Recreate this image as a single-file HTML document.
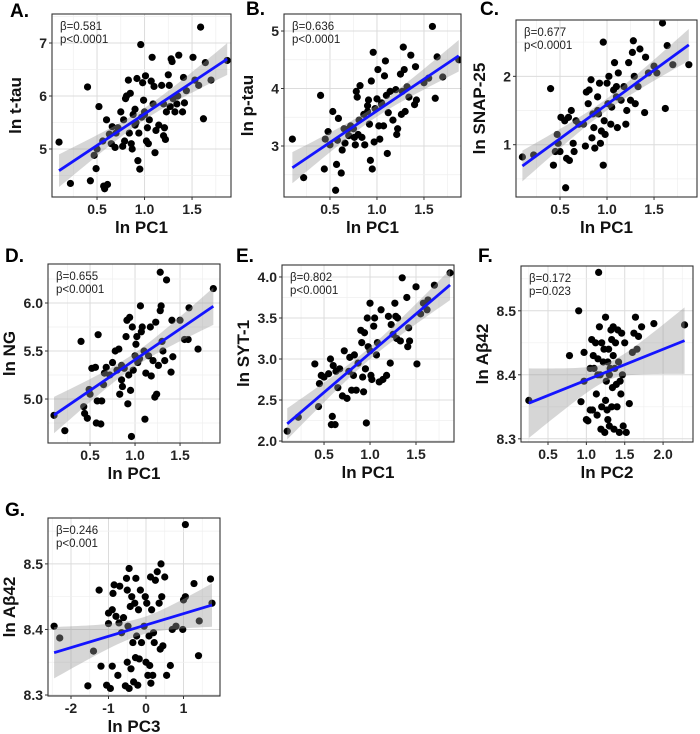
<!DOCTYPE html>
<html><head><meta charset="utf-8"><style>
body{margin:0;background:#fff;}
svg{display:block;font-family:"Liberation Sans",Arial,sans-serif;}
</style></head><body>
<svg id="fig" width="700" height="734" viewBox="0 0 700 734" xmlns="http://www.w3.org/2000/svg"></svg>
<script>
// ---- data ----
const aX=[0.1,0.22,0.4,0.43,0.47,0.49,0.52,0.56,0.57,0.58,0.6,0.61,0.63,0.65,0.66,0.69,0.72,0.75,0.77,0.78,0.79,0.8,0.81,0.83,0.84,0.85,0.86,0.87,0.88,0.9,0.91,0.92,0.93,0.94,0.95,0.96,0.97,0.98,0.99,1.0,1.01,1.02,1.03,1.04,1.05,1.07,1.08,1.09,1.1,1.11,1.12,1.15,1.18,1.2,1.21,1.22,1.23,1.25,1.26,1.27,1.28,1.29,1.3,1.32,1.34,1.36,1.4,1.41,1.42,1.44,1.51,1.53,1.57,1.59,1.62,1.64,1.7,1.87,0.5,0.7,0.9,1.0,1.2,1.35];
const aY=[5.13,4.35,6.17,4.4,4.88,4.63,5.8,5.15,4.3,4.25,5.55,4.33,5.28,5.1,5.42,5.03,5.4,5.7,5.05,5.55,5.15,5.95,6.0,6.3,5.3,6.05,5.1,5.0,5.65,5.75,5.5,6.33,4.78,5.3,4.62,6.97,5.6,6.25,5.92,5.7,6.38,5.15,5.4,5.1,5.55,6.28,6.73,5.85,6.18,4.93,5.35,5.45,6.2,5.25,5.4,5.18,5.7,6.4,6.2,5.8,6.7,6.65,5.95,5.7,5.85,6.77,5.7,6.35,5.87,6.1,6.73,6.3,6.2,7.3,5.57,6.63,6.3,6.67,5.0,5.3,5.45,5.65,5.85,6.0];
const bX=[0.1,0.22,0.4,0.44,0.45,0.48,0.5,0.53,0.56,0.57,0.58,0.59,0.62,0.63,0.65,0.66,0.7,0.72,0.75,0.76,0.77,0.78,0.79,0.8,0.81,0.82,0.84,0.86,0.87,0.9,0.91,0.92,0.93,0.94,0.95,0.96,0.97,0.98,1.0,1.01,1.02,1.03,1.05,1.07,1.08,1.09,1.1,1.11,1.12,1.14,1.17,1.2,1.21,1.22,1.25,1.26,1.27,1.28,1.29,1.3,1.32,1.34,1.36,1.4,1.41,1.42,1.5,1.55,1.59,1.62,1.64,1.7,1.87,0.9,1.05,0.7];
const bY=[3.12,2.45,3.88,2.6,3.12,3.25,3.02,3.6,2.23,2.68,3.1,3.48,2.53,2.93,3.3,3.05,3.18,3.35,3.3,3.15,3.02,3.95,3.85,3.2,3.45,4.05,3.15,3.55,3.02,3.7,3.8,3.38,2.75,4.13,2.6,4.63,3.07,3.65,3.82,4.33,3.35,3.12,3.72,3.35,4.22,4.48,3.88,2.87,3.58,3.95,3.45,3.98,3.2,3.3,4.25,3.55,3.95,4.72,4.33,3.6,4.03,3.85,4.58,3.72,4.38,3.8,4.1,4.18,5.08,3.83,4.55,4.2,4.5,3.6,3.75,3.3];
const cX=[0.1,0.22,0.4,0.43,0.45,0.47,0.48,0.5,0.51,0.55,0.56,0.57,0.59,0.6,0.62,0.64,0.65,0.67,0.7,0.75,0.77,0.78,0.8,0.81,0.83,0.84,0.85,0.86,0.87,0.9,0.91,0.92,0.93,0.94,0.96,0.96,0.97,0.98,1.0,1.01,1.02,1.04,1.05,1.07,1.08,1.1,1.11,1.12,1.15,1.18,1.2,1.21,1.23,1.25,1.27,1.28,1.29,1.3,1.33,1.35,1.4,1.41,1.44,1.5,1.53,1.59,1.62,1.64,1.7,1.87,0.9,1.1];
const cY=[0.82,0.85,1.82,0.7,0.9,1.15,1.02,0.9,1.4,1.35,0.37,0.8,1.4,0.77,1.5,1.02,0.9,1.35,1.3,1.3,0.98,1.77,1.6,1.8,1.95,1.1,1.45,1.25,0.95,1.7,1.45,1.9,1.02,1.2,2.5,0.7,1.35,1.15,1.9,1.6,2.0,1.3,1.55,1.8,2.2,1.85,1.25,2.05,1.65,1.85,1.3,1.5,2.2,1.65,2.35,2.52,2.0,1.6,1.85,2.4,1.47,2.28,2.05,2.15,2.05,2.78,1.53,2.45,2.17,2.17,1.5,1.7];
const dX=[0.1,0.22,0.4,0.43,0.44,0.47,0.49,0.5,0.52,0.56,0.57,0.58,0.59,0.62,0.63,0.65,0.66,0.68,0.72,0.75,0.78,0.8,0.82,0.83,0.85,0.86,0.88,0.9,0.91,0.92,0.93,0.94,0.95,0.96,0.97,0.98,1.0,1.01,1.02,1.03,1.06,1.07,1.08,1.1,1.11,1.12,1.15,1.17,1.18,1.2,1.22,1.23,1.24,1.26,1.28,1.29,1.3,1.31,1.33,1.35,1.4,1.41,1.42,1.5,1.55,1.59,1.6,1.7,1.28,1.87,0.85,1.05];
const dY=[4.83,4.67,5.6,4.92,4.85,4.8,5.1,5.05,5.32,5.33,4.75,4.98,5.67,4.74,4.98,5.15,5.27,5.33,5.25,5.38,5.5,5.3,5.52,5.05,5.2,5.13,5.32,5.65,5.82,4.95,5.25,5.85,5.09,4.61,5.75,5.3,5.45,5.57,5.65,5.38,5.97,5.7,5.75,5.5,4.79,5.27,5.45,5.75,5.24,5.4,5.02,5.8,5.05,5.35,5.92,5.97,5.6,5.5,5.4,6.24,5.28,5.82,5.44,5.82,5.62,5.62,5.95,5.52,6.32,6.15,5.35,5.42];
const eX=[0.1,0.22,0.4,0.44,0.45,0.47,0.5,0.55,0.57,0.58,0.59,0.6,0.62,0.63,0.65,0.67,0.7,0.72,0.75,0.77,0.78,0.8,0.82,0.83,0.85,0.87,0.9,0.91,0.92,0.93,0.94,0.95,0.96,0.97,0.98,1.0,1.01,1.02,1.04,1.05,1.07,1.08,1.1,1.12,1.14,1.18,1.2,1.22,1.23,1.25,1.27,1.28,1.29,1.3,1.33,1.35,1.4,1.41,1.42,1.43,1.5,1.51,1.55,1.58,1.62,1.63,1.7,1.87,1.0];
const eY=[2.12,2.29,2.94,2.42,2.7,2.8,2.78,2.82,3.0,2.2,2.3,2.92,2.2,2.85,2.65,2.88,2.55,3.1,2.52,2.85,3.02,2.62,2.8,3.05,2.62,2.95,3.35,3.2,2.78,2.6,3.32,2.88,2.22,3.5,3.15,3.68,2.8,2.75,3.4,3.5,3.05,3.2,2.72,3.6,2.75,2.8,3.52,2.95,3.42,3.3,3.68,3.52,3.25,3.5,3.22,3.99,3.75,3.15,3.38,3.22,3.88,2.94,3.55,3.68,3.6,3.72,3.9,4.05,3.1];
const fX=[0.25,0.78,0.9,0.93,0.97,0.97,1.0,1.02,1.05,1.05,1.07,1.08,1.09,1.1,1.12,1.13,1.14,1.15,1.16,1.17,1.18,1.19,1.2,1.2,1.22,1.23,1.24,1.25,1.25,1.26,1.27,1.28,1.28,1.29,1.3,1.31,1.32,1.33,1.33,1.34,1.35,1.35,1.36,1.37,1.38,1.39,1.4,1.41,1.42,1.43,1.44,1.45,1.46,1.47,1.48,1.5,1.52,1.56,1.6,1.62,1.64,1.66,1.68,1.72,1.88,2.28,1.3,1.15];
const fY=[8.36,8.43,8.5,8.358,8.435,8.39,8.33,8.328,8.345,8.41,8.455,8.345,8.43,8.41,8.45,8.37,8.337,8.425,8.56,8.475,8.40,8.315,8.45,8.35,8.42,8.44,8.31,8.49,8.36,8.39,8.345,8.42,8.33,8.44,8.32,8.41,8.47,8.455,8.35,8.38,8.475,8.43,8.315,8.41,8.45,8.385,8.35,8.47,8.42,8.31,8.39,8.37,8.465,8.40,8.32,8.45,8.31,8.355,8.435,8.465,8.49,8.44,8.46,8.475,8.48,8.478,8.4,8.40];
const gX=[-2.45,-2.3,-1.4,-1.55,-1.25,-1.2,-1.05,-1.0,-1.0,-0.95,-0.9,-0.9,-0.88,-0.85,-0.8,-0.75,-0.72,-0.7,-0.65,-0.6,-0.55,-0.52,-0.5,-0.5,-0.48,-0.45,-0.45,-0.42,-0.4,-0.38,-0.35,-0.33,-0.3,-0.28,-0.27,-0.25,-0.22,-0.2,-0.18,-0.15,-0.12,-0.05,-0.02,0.0,0.02,0.05,0.08,0.1,0.12,0.13,0.15,0.18,0.2,0.22,0.25,0.3,0.35,0.38,0.4,0.42,0.45,0.5,0.55,0.65,0.7,0.8,0.98,1.0,1.05,1.05,1.28,1.4,1.42,1.72,1.76];
const gY=[8.405,8.387,8.367,8.314,8.46,8.344,8.315,8.425,8.409,8.31,8.43,8.344,8.455,8.468,8.42,8.33,8.41,8.466,8.395,8.418,8.314,8.478,8.46,8.35,8.405,8.31,8.493,8.435,8.34,8.45,8.38,8.32,8.44,8.357,8.478,8.39,8.315,8.43,8.355,8.46,8.38,8.405,8.45,8.35,8.44,8.33,8.39,8.345,8.48,8.318,8.43,8.33,8.395,8.38,8.475,8.488,8.44,8.37,8.5,8.45,8.375,8.48,8.33,8.345,8.4,8.405,8.4,8.445,8.56,8.45,8.47,8.36,8.413,8.477,8.44];
const tick1=[0.5,1.0,1.5];
const tickF=[0.5,1.0,1.5,2.0];
const tickG=[-2,-1,0,1];
const betas=["β=0.581","β=0.636","β=0.677","β=0.655","β=0.802","β=0.172","β=0.246"];
const pvals=["p<0.0001","p<0.0001","p<0.0001","p<0.0001","p<0.0001","p=0.023","p<0.001"];

// ---- layout ----
const panels=[
 {id:'a',L:'A.',lx:10,ly:17,box:[52,14,231,197],xd:[0.026,1.91],yd:[4.094,7.547],x:aX,y:aY,xt:tick1,yt:[5,6,7],yf:0,xl:'ln PC1',yl:'ln t-tau'},
 {id:'b',L:'B.',lx:246,ly:15,box:[284,14,461,197],xd:[0.011,1.894],yd:[2.113,5.296],x:bX,y:bY,xt:tick1,yt:[3,4,5],yf:0,xl:'ln PC1',yl:'ln p-tau'},
 {id:'c',L:'C.',lx:480,ly:15,box:[516,20,697,197],xd:[0.032,1.957],yd:[0.235,2.824],x:cX,y:cY,xt:tick1,yt:[1,2],yf:0,xl:'ln PC1',yl:'ln SNAP-25'},
 {id:'d',L:'D.',lx:5,ly:262,box:[48,264,220,443],xd:[0.033,1.944],yd:[4.542,6.406],x:dX,y:dY,xt:tick1,yt:[5,5.5,6],yf:1,xl:'ln PC1',yl:'ln NG'},
 {id:'e',L:'E.',lx:236,ly:262,box:[282,265,454,442],xd:[0.043,1.913],yd:[1.988,4.146],x:eX,y:eY,xt:tick1,yt:[2,2.5,3,3.5,4],yf:1,xl:'ln PC1',yl:'ln SYT-1'},
 {id:'f',L:'F.',lx:478,ly:262,box:[521,266,693,442],xd:[0.148,2.39],yd:[8.295,8.570],x:fX,y:fY,xt:tickF,yt:[8.3,8.4,8.5],yf:1,xl:'ln PC2',yl:'ln Aβ42'},
 {id:'g',L:'G.',lx:5,ly:516,box:[48,518,220,696],xd:[-2.613,1.973],yd:[8.2985,8.570],x:gX,y:gY,xt:tickG,yt:[8.3,8.4,8.5],yf:1,xl:'ln PC3',yl:'ln Aβ42'}
];
const NS='http://www.w3.org/2000/svg';
const svg=document.getElementById('fig');
function mk(tag,attrs,parent){const e=document.createElementNS(NS,tag);for(const k in attrs)e.setAttribute(k,attrs[k]);(parent||svg).appendChild(e);return e;}

panels.forEach((p,pi)=>{
 const [l,t,r,b]=p.box;
 const sx=v=>l+(v-p.xd[0])/(p.xd[1]-p.xd[0])*(r-l);
 const sy=v=>b-(v-p.yd[0])/(p.yd[1]-p.yd[0])*(b-t);
 const g=mk('g',{});
 
 
 const clipId='clip'+p.id;
 const cp=mk('clipPath',{id:clipId},g);mk('rect',{x:l,y:t,width:r-l,height:b-t},cp);
 const xs=p.xt[1]-p.xt[0], ys=p.yt.length>1?p.yt[1]-p.yt[0]:1;
 for(let v=p.xt[0]-xs*3;v<=p.xd[1]+xs;v+=xs/2){if(v<p.xd[0]||v>p.xd[1])continue;
  const major=Math.abs(((v-p.xt[0])/xs)-Math.round((v-p.xt[0])/xs))<1e-6;
  const ln=mk('line',{x1:sx(v),x2:sx(v),y1:t,y2:b,stroke:major?'#dcdcdc':'#efefef','stroke-width':major?1:0.7},g);
  
  }
 for(let v=p.yt[0]-ys*3;v<=p.yd[1]+ys;v+=ys/2){if(v<p.yd[0]||v>p.yd[1])continue;
  const major=Math.abs(((v-p.yt[0])/ys)-Math.round((v-p.yt[0])/ys))<1e-6;
  const ln=mk('line',{x1:l,x2:r,y1:sy(v),y2:sy(v),stroke:major?'#dcdcdc':'#efefef','stroke-width':major?1:0.7},g);
  
  }
 const pg=mk('g',{'clip-path':'url(#'+clipId+')'},g);
 p.x.forEach((xv,i)=>{const c=mk('circle',{cx:sx(xv),cy:sy(p.y[i]),r:3.6,fill:'#000'},pg);
  
  });
 const n=p.x.length;const mx=p.x.reduce((a,c)=>a+c,0)/n,my=p.y.reduce((a,c)=>a+c,0)/n;
 let sxx=0,sxy=0;p.x.forEach((xv,i)=>{sxx+=(xv-mx)**2;sxy+=(xv-mx)*(p.y[i]-my);});
 const slope=sxy/sxx,ic=my-slope*mx;let sse=0;p.x.forEach((xv,i)=>{sse+=(p.y[i]-ic-slope*xv)**2;});
 const s=Math.sqrt(sse/(n-2));const x0=Math.min(...p.x),x1=Math.max(...p.x);
 const up=[],lo=[];for(let k=0;k<=40;k++){const xv=x0+(x1-x0)*k/40;const yh=ic+slope*xv;const h=1.99*s*Math.sqrt(1/n+(xv-mx)**2/sxx);up.push(sx(xv)+','+sy(yh+h));lo.unshift(sx(xv)+','+sy(yh-h));}
 const band=mk('polygon',{points:up.concat(lo).join(' '),fill:'#999','fill-opacity':0.4},pg);
 
 
 const fl=mk('line',{x1:sx(x0),y1:sy(ic+slope*x0),x2:sx(x1),y2:sy(ic+slope*x1),stroke:'#1414ff','stroke-width':2.8},pg);
 
 
 const bx=mk('rect',{x:l,y:t,width:r-l,height:b-t,fill:'none',stroke:'#333','stroke-width':1.1},g);
 
 
 p.xt.forEach(v=>{mk('line',{x1:sx(v),x2:sx(v),y1:b,y2:b+3,stroke:'#333'},g);
  const tx=mk('text',{x:sx(v),y:b+17,'text-anchor':'middle','font-size':14,'font-weight':'bold',fill:'#222'},g);tx.textContent=String(v.toFixed(p.xt===tickG?0:1));
  
  });
 p.yt.forEach(v=>{mk('line',{x1:l-3,x2:l,y1:sy(v),y2:sy(v),stroke:'#333'},g);
  const tx=mk('text',{x:l-5,y:sy(v)+5,'text-anchor':'end','font-size':14,'font-weight':'bold',fill:'#222'},g);tx.textContent=v.toFixed(p.yf);
  
  });
 const xl=mk('text',{x:(l+r)/2,y:b+36,'text-anchor':'middle','font-size':17,'font-weight':'bold',fill:'#111'},g);xl.textContent=p.xl;
 
 
 const yx=l-(p.yf?33:31);const yl=mk('text',{x:yx,y:(t+b)/2,'text-anchor':'middle','font-size':17,'font-weight':'bold',fill:'#111',transform:'rotate(-90 '+yx+' '+(t+b)/2+')'},g);yl.textContent=p.yl;
 
 
 const lt=mk('text',{x:p.lx,y:p.ly,'font-size':19,'font-weight':'bold',fill:'#000'},g);lt.textContent=p.L;
 
 
 const a1=mk('text',{x:l+8,y:t+16,'font-size':11.5,fill:'#222'},g);a1.textContent=betas[pi];
 
 
 const a2=mk('text',{x:l+8,y:t+29,'font-size':11.5,fill:'#222'},g);a2.textContent=pvals[pi];
 
 
});
</script>
</body></html>
